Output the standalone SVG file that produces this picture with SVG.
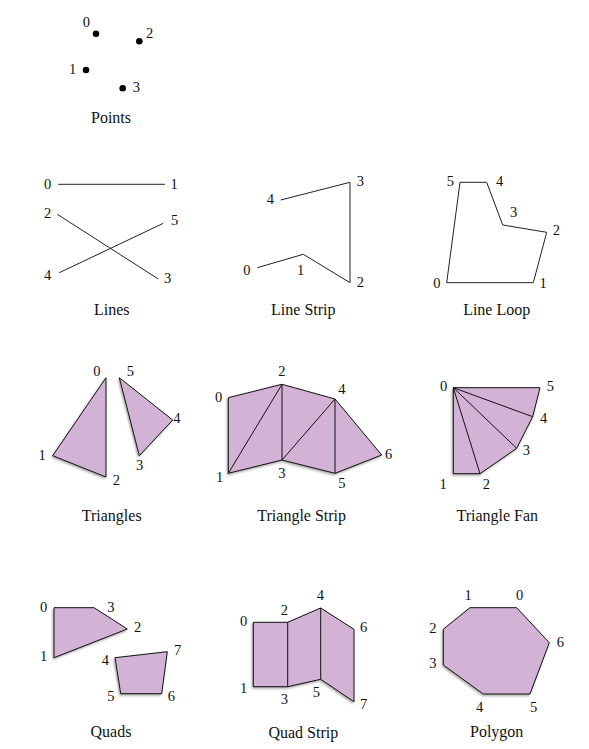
<svg xmlns="http://www.w3.org/2000/svg" width="589" height="749" viewBox="0 0 589 749">
<defs>
<filter id="sh" x="-20%" y="-20%" width="140%" height="140%">
<feDropShadow dx="-1" dy="1.5" stdDeviation="1.2" flood-color="#000" flood-opacity="0.35"/>
</filter>
<style>
text{font-family:"Liberation Serif","Times New Roman",serif;fill:#111}
.n{font-size:14.5px}
.t{font-size:16px;text-anchor:middle}
.ln{stroke:#222;stroke-width:1;fill:none}
.sh{fill:#d2b3d5;stroke:#111;stroke-width:1;stroke-linejoin:round;filter:url(#sh)}
.in{stroke:#111;stroke-width:1;fill:none}
</style>
</defs>
<rect width="589" height="749" fill="#fff"/>

<g id="points">
<circle cx="96" cy="33.7" r="3.3" fill="#000"/>
<circle cx="86" cy="70" r="3.3" fill="#000"/>
<circle cx="139.3" cy="41.3" r="3.3" fill="#000"/>
<circle cx="122.7" cy="88.3" r="3.3" fill="#000"/>
<text class="n" x="82.7" y="26.7">0</text>
<text class="n" x="69" y="74">1</text>
<text class="n" x="146" y="37.7">2</text>
<text class="n" x="132.7" y="92.3">3</text>
<text class="t" x="111" y="123.3">Points</text>
</g>

<g id="lines">
<g class="ln">
<line x1="58.3" y1="184.3" x2="165" y2="184.3"/>
<line x1="57.3" y1="214.3" x2="158.3" y2="279"/>
<line x1="59.3" y1="272.7" x2="163.3" y2="223.3"/>
</g>
<text class="n" x="44" y="189">0</text>
<text class="n" x="170.5" y="189">1</text>
<text class="n" x="44" y="217.7">2</text>
<text class="n" x="164" y="282.7">3</text>
<text class="n" x="44" y="280">4</text>
<text class="n" x="171" y="225">5</text>
<text class="t" x="111.7" y="315">Lines</text>
</g>

<g id="linestrip">
<polyline class="ln" points="257.3,267.7 303.3,254.3 350,282.7 350,182.3 280.7,200"/>
<text class="n" x="243.3" y="275">0</text>
<text class="n" x="297" y="275">1</text>
<text class="n" x="356.7" y="286.7">2</text>
<text class="n" x="356.7" y="186">3</text>
<text class="n" x="266.7" y="204">4</text>
<text class="t" x="303.3" y="315">Line Strip</text>
</g>

<g id="lineloop">
<polygon class="ln" points="446.7,282.7 533.3,282.7 546.7,232.3 502.7,225 486.7,182.3 460,182.3"/>
<text class="n" x="433.3" y="288.3">0</text>
<text class="n" x="539.5" y="288.3">1</text>
<text class="n" x="552.7" y="235">2</text>
<text class="n" x="510" y="217.3">3</text>
<text class="n" x="496" y="186">4</text>
<text class="n" x="446.7" y="186">5</text>
<text class="t" x="496.7" y="315">Line Loop</text>
</g>

<g id="triangles">
<polygon class="sh" points="106,377.7 52.7,455.7 106,477"/>
<polygon class="sh" points="119.3,377.7 172.7,420 139.3,455.7"/>
<text class="n" x="93.3" y="375.7">0</text>
<text class="n" x="38.5" y="460">1</text>
<text class="n" x="112.7" y="485">2</text>
<text class="n" x="136" y="470">3</text>
<text class="n" x="173.3" y="423.3">4</text>
<text class="n" x="126.7" y="375.7">5</text>
<text class="t" x="111.7" y="520.7">Triangles</text>
</g>

<g id="trianglestrip">
<polygon class="sh" points="228.3,397.7 282,384.3 335,399 381.7,455 335,473.3 282,460 228.3,473.3"/>
<g class="in">
<line x1="228.3" y1="473.3" x2="282" y2="384.3"/>
<line x1="282" y1="384.3" x2="282" y2="460"/>
<line x1="282" y1="460" x2="335" y2="399"/>
<line x1="335" y1="399" x2="335" y2="473.3"/>
</g>
<text class="n" x="215" y="402.3">0</text>
<text class="n" x="216" y="481.7">1</text>
<text class="n" x="278.3" y="375.7">2</text>
<text class="n" x="278.3" y="478.3">3</text>
<text class="n" x="338.3" y="394.3">4</text>
<text class="n" x="338.3" y="487.7">5</text>
<text class="n" x="385" y="459">6</text>
<text class="t" x="301.7" y="520.7">Triangle Strip</text>
</g>

<g id="trianglefan">
<polygon class="sh" points="453.3,387.7 453.3,473.7 480,473.7 516.7,448.3 532.7,416.7 540,387.7"/>
<g class="in">
<line x1="453.3" y1="387.7" x2="480" y2="473.7"/>
<line x1="453.3" y1="387.7" x2="516.7" y2="448.3"/>
<line x1="453.3" y1="387.7" x2="532.7" y2="416.7"/>
</g>
<text class="n" x="440" y="391">0</text>
<text class="n" x="439.5" y="489">1</text>
<text class="n" x="482.7" y="489">2</text>
<text class="n" x="522.7" y="455">3</text>
<text class="n" x="540" y="423.3">4</text>
<text class="n" x="546.7" y="391">5</text>
<text class="t" x="497.3" y="520.7">Triangle Fan</text>
</g>

<g id="quads">
<polygon class="sh" points="54,607.7 54,657.7 127.3,629 94,607.7"/>
<polygon class="sh" points="115,657.7 120.7,693.7 161.7,693.7 167.3,651.7"/>
<text class="n" x="40" y="611.7">0</text>
<text class="n" x="40" y="661">1</text>
<text class="n" x="134" y="632.3">2</text>
<text class="n" x="107.3" y="611.7">3</text>
<text class="n" x="101.7" y="665">4</text>
<text class="n" x="107.3" y="701">5</text>
<text class="n" x="167.7" y="701">6</text>
<text class="n" x="174" y="655">7</text>
<text class="t" x="111" y="736.7">Quads</text>
</g>

<g id="quadstrip">
<polygon class="sh" points="253.3,622.3 287.7,622.3 320.7,608 354,629.3 354,701.7 320.7,679.3 287.7,686.7 253.3,686.7"/>
<g class="in">
<line x1="287.7" y1="622.3" x2="287.7" y2="686.7"/>
<line x1="320.7" y1="608" x2="320.7" y2="679.3"/>
</g>
<text class="n" x="240" y="625.7">0</text>
<text class="n" x="240" y="693.3">1</text>
<text class="n" x="280.7" y="615">2</text>
<text class="n" x="280.7" y="704">3</text>
<text class="n" x="316.7" y="600">4</text>
<text class="n" x="312.7" y="697.3">5</text>
<text class="n" x="360" y="631.7">6</text>
<text class="n" x="360" y="709">7</text>
<text class="t" x="303.3" y="738.3">Quad Strip</text>
</g>

<g id="polygon">
<polygon class="sh" points="516.7,607.7 470,607.7 443.3,629.3 443.3,665 483.3,694 530,694 549.3,642.7"/>
<text class="n" x="516" y="600">0</text>
<text class="n" x="464.5" y="600">1</text>
<text class="n" x="429.3" y="633.3">2</text>
<text class="n" x="429.3" y="668.3">3</text>
<text class="n" x="476" y="711.7">4</text>
<text class="n" x="530" y="711.7">5</text>
<text class="n" x="556.7" y="646.7">6</text>
<text class="t" x="496.7" y="736.7">Polygon</text>
</g>
</svg>
